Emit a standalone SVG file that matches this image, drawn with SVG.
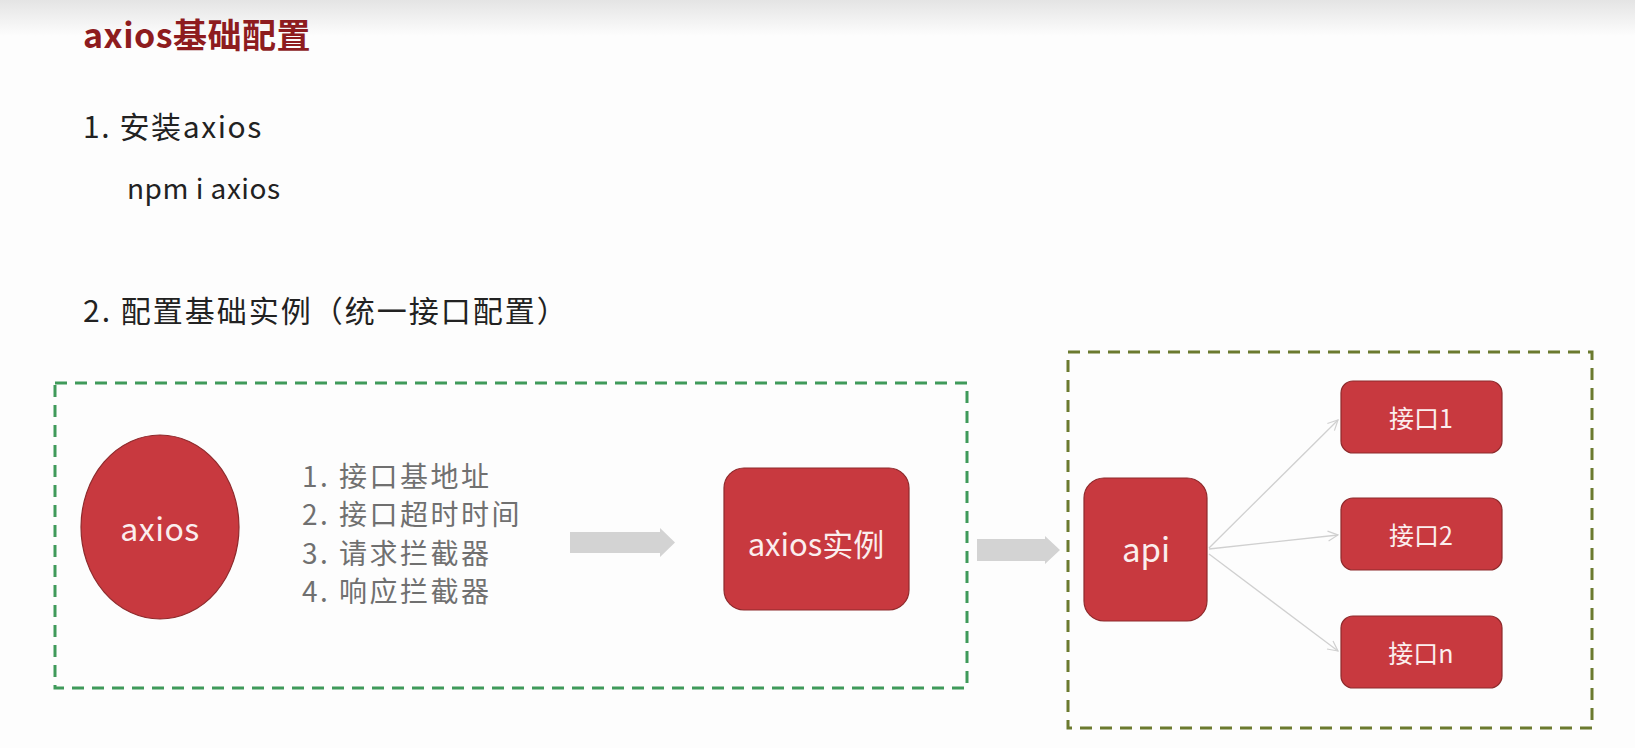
<svg xmlns="http://www.w3.org/2000/svg" width="1635" height="748" viewBox="0 0 1635 748">
<defs>
<linearGradient id="topband" x1="0" y1="0" x2="0" y2="1">
<stop offset="0" stop-color="#e4e4e4"/>
<stop offset="1" stop-color="#fdfdfd"/>
</linearGradient>
<marker id="chev" viewBox="0 0 12 12" refX="11" refY="6" markerWidth="12" markerHeight="12" markerUnits="userSpaceOnUse" orient="auto">
<path d="M1,1 L11,6 L1,11" fill="none" stroke="#d0d0d0" stroke-width="1.2"/>
</marker>
<style>
.t{font-family:"Noto Sans CJK SC","Noto Sans",sans-serif;}
.title{font-size:34px;font-weight:bold;fill:#8e1c1f;letter-spacing:0.5px;}
.body{font-size:30px;fill:#222;}
.list{font-size:28px;fill:#707070;letter-spacing:2.5px;}
.node{fill:#c8393f;stroke:#8e2a2c;stroke-width:1.2;}
.lbl{font-size:31px;fill:#fbeeee;text-anchor:middle;dominant-baseline:central;}
.lbls{font-size:25px;fill:#fbeeee;text-anchor:middle;dominant-baseline:central;}
.garrow{fill:#d3d3d3;}
.conn{stroke:#d0d0d0;stroke-width:1.3;fill:none;}
</style>
</defs>
<rect width="1635" height="748" fill="#fdfdfd"/>
<rect width="1635" height="36" fill="url(#topband)"/>

<text class="t title" x="83" y="48">axios基础配置</text>
<text class="t body" x="83" y="138" style="letter-spacing:1.6px">1. 安装axios</text>
<text class="t body" x="127" y="199" style="font-size:28px;letter-spacing:0.5px">npm i axios</text>
<text class="t body" x="83" y="322" style="letter-spacing:2px">2. 配置基础实例（统一接口配置）</text>

<rect id="group-config" x="55" y="383" width="912" height="305" fill="none" stroke="#3f9a5a" stroke-width="3" stroke-dasharray="12,8"/>
<rect id="group-api" x="1068" y="352" width="524" height="376" fill="none" stroke="#6b7a2f" stroke-width="3" stroke-dasharray="12,8"/>

<g id="node-axios">
<ellipse class="node" cx="160" cy="527" rx="79" ry="92"/>
<text class="t lbl" x="160" y="527" style="font-size:32px;letter-spacing:0.5px">axios</text>
</g>

<g id="node-list">
<text class="t list" x="302" y="487">1. 接口基地址</text>
<text class="t list" x="302" y="525">2. 接口超时时间</text>
<text class="t list" x="302" y="564">3. 请求拦截器</text>
<text class="t list" x="302" y="602">4. 响应拦截器</text>
</g>

<g id="node-instance">
<rect class="node" x="724" y="468" width="185" height="142" rx="20"/>
<text class="t lbl" x="816" y="542">axios实例</text>
</g>

<g id="node-api">
<rect class="node" x="1084" y="478" width="123" height="143" rx="20"/>
<text class="t lbl" x="1146" y="548" style="font-size:33px">api</text>
</g>

<g id="node-if1">
<rect class="node" x="1341" y="381" width="161" height="72" rx="12"/>
<text class="t lbls" x="1421" y="417">接口1</text>
</g>
<g id="node-if2">
<rect class="node" x="1341" y="498" width="161" height="72" rx="12"/>
<text class="t lbls" x="1421" y="534">接口2</text>
</g>
<g id="node-ifn">
<rect class="node" x="1341" y="616" width="161" height="72" rx="12"/>
<text class="t lbls" x="1421" y="652">接口n</text>
</g>

<g id="connectors">
<polygon class="garrow" points="570,532 660,532 660,528 675,542.5 660,557 660,553 570,553"/>
<polygon class="garrow" points="977,539 1045,539 1045,536 1060,550 1045,564 1045,561 977,561"/>
<line class="conn" x1="1209" y1="548" x2="1338" y2="420" marker-end="url(#chev)"/>
<line class="conn" x1="1209" y1="549" x2="1338" y2="535" marker-end="url(#chev)"/>
<line class="conn" x1="1209" y1="554" x2="1338" y2="651" marker-end="url(#chev)"/>
</g>
</svg>
